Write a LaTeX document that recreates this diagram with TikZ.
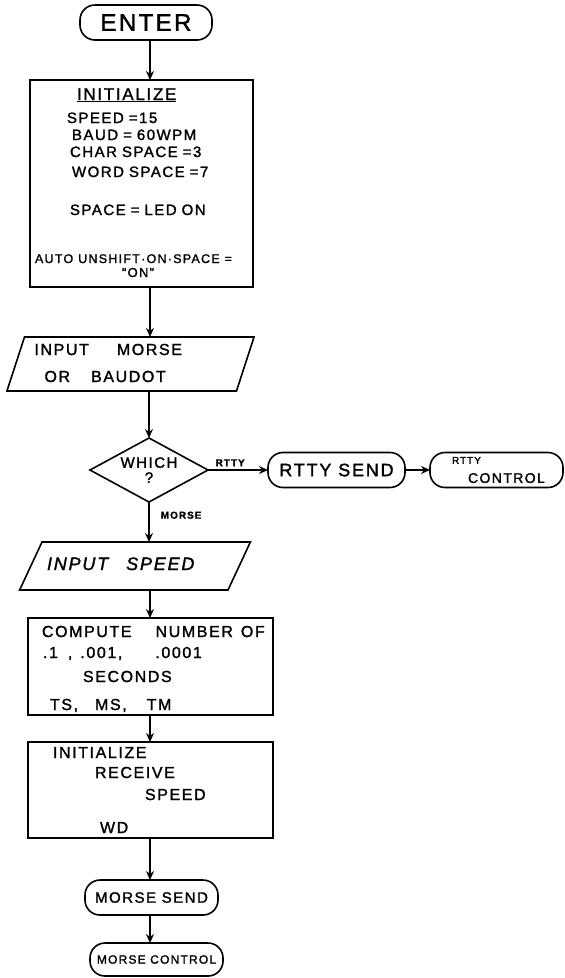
\documentclass[tikz,border=0pt]{standalone}
\usepackage{fontspec}
\setmainfont{Liberation Sans}[LetterSpace=10, FakeBold=1.5]
\usetikzlibrary{positioning,shapes.geometric,arrows.meta}
\newcommand\lettering[2]{\fontsize{#1}{#2}\selectfont}

\begin{document}
\begin{tikzpicture}[
x=1pt, y=1pt,
line width=1.6pt,
term/.style={draw, rounded corners=15pt, inner sep=0pt, outer sep=0pt, minimum height=35pt},
proc/.style={draw, inner sep=0pt, outer sep=0pt, align=left},
io/.style={draw, trapezium, inner sep=0pt, outer sep=0pt, align=left, trapezium left angle=72, trapezium right angle=108},
decide/.style={draw, diamond, aspect=1.8, inner sep=0pt, outer sep=0pt, align=center},
lbl/.style={font=\bfseries\lettering{10}{10}, inner sep=3pt},
arrow/.style={-{Stealth[length=9pt,width=8pt]}}
]
\useasboundingbox (0,0) rectangle (565,-978);
\coordinate (spine) at (150,0);

\node[term, minimum width=132pt, font=\lettering{24}{24}] (enter) at (146,-22.5) {ENTER};
\node[proc, below=40pt of enter, xshift=-4.5pt, text width=223pt, text height=20pt, text depth=187pt, font=\lettering{15}{17}] (init) {
\hspace*{47pt}{\lettering{17}{17}\underline{INITIALIZE}}\\[6pt]
\hspace*{37pt}SPEED =15\\
\hspace*{42pt}BAUD = 60WPM\\
\hspace*{40pt}CHAR SPACE =3\\[3pt]
\hspace*{42pt}WORD SPACE =7\\[21pt]
\hspace*{40pt}SPACE = LED ON\\[31pt]
\hspace*{5pt}{\lettering{12.5}{17}AUTO UNSHIFT·ON·SPACE =}\\[-3pt]
\hspace*{92pt}{\lettering{13}{17}``ON''}};
\node[io, below=50pt of init, xshift=-11pt, text width=192pt, inner xsep=10pt, text height=18pt, text depth=36pt, font=\lettering{16}{27}] (inmorse) {INPUT\hspace{28pt}MORSE\\
\hspace*{10pt}OR\hspace{21pt}BAUDOT};
\node[decide, below=47pt of inmorse, xshift=18.5pt, minimum width=118pt, minimum height=64pt, font=\lettering{15}{15}] (which) {WHICH\\?};
\node[term, right=60pt of which, minimum width=137pt, font=\lettering{18}{18}] (rttysend) {RTTY SEND};
\node[term, right=25pt of rttysend, minimum width=133pt, text width=123pt, align=left, font=\lettering{14}{19}] (rttyctrl) {\hspace*{17pt}{\lettering{10}{19}RTTY}\\
\hspace*{33pt}CONTROL};
\node[io, below=40pt of which, xshift=-14pt, trapezium left angle=65, trapezium right angle=115, text width=176pt, inner xsep=5pt, text height=28pt, text depth=20pt, font=\itshape\lettering{18}{18}] (inspeed) {INPUT\hspace{18pt}SPEED};
\node[proc, below=28pt of inspeed, xshift=15.5pt, text width=245pt, text height=19pt, text depth=78pt, font=\lettering{16}{21}] (compute) {
\hspace*{14pt}COMPUTE\hspace{24pt}NUMBER\hspace{8pt}OF\\
\hspace*{15pt}.1\hspace{10pt},\hspace{8pt}.001,\hspace{33pt}.0001\\[3pt]
\hspace*{55pt}SECONDS\\[7pt]
\hspace*{22pt}TS,\hspace{17pt}MS,\hspace{20pt}TM};
\node[proc, below=27pt of compute, text width=245pt, text height=16pt, text depth=80pt, font=\lettering{16}{20}] (receive) {
\hspace*{25pt}INITIALIZE\\
\hspace*{67pt}RECEIVE\\[2pt]
\hspace*{117pt}SPEED\\[13pt]
\hspace*{72pt}WD};
\node[term, below=42pt of receive, xshift=1pt, minimum width=133pt, font=\lettering{15}{15}] (msend) {MORSE SEND};
\node[term, below=28pt of msend, xshift=5pt, minimum width=133pt, minimum height=33pt, font=\lettering{12}{12}] (mctrl) {MORSE CONTROL};

\draw[arrow] (enter.south -| spine) -- (init.north -| spine);
\draw[arrow] (init.south -| spine) -- (inmorse.north -| spine);
\draw[arrow] (inmorse.south -| which.north) -- (which.north);
\draw[arrow] (which.east) -- node[lbl, above, pos=0.37] (rttylbl) {RTTY} (rttysend.west);
\draw[arrow] (rttysend) -- (rttyctrl);
\draw[arrow] (which.south) -- node[lbl, anchor=west, pos=0.33, xshift=8pt] (morselbl) {MORSE} (which.south |- inspeed.north);
\draw[arrow] (inspeed.south -| spine) -- (compute.north -| spine);
\draw[arrow] (compute.south -| spine) -- (receive.north -| spine);
\draw[arrow] (receive.south -| spine) -- (msend.north -| spine);
\draw[arrow] (msend.south -| spine) -- (mctrl.north -| spine);
\end{tikzpicture}
\end{document}
